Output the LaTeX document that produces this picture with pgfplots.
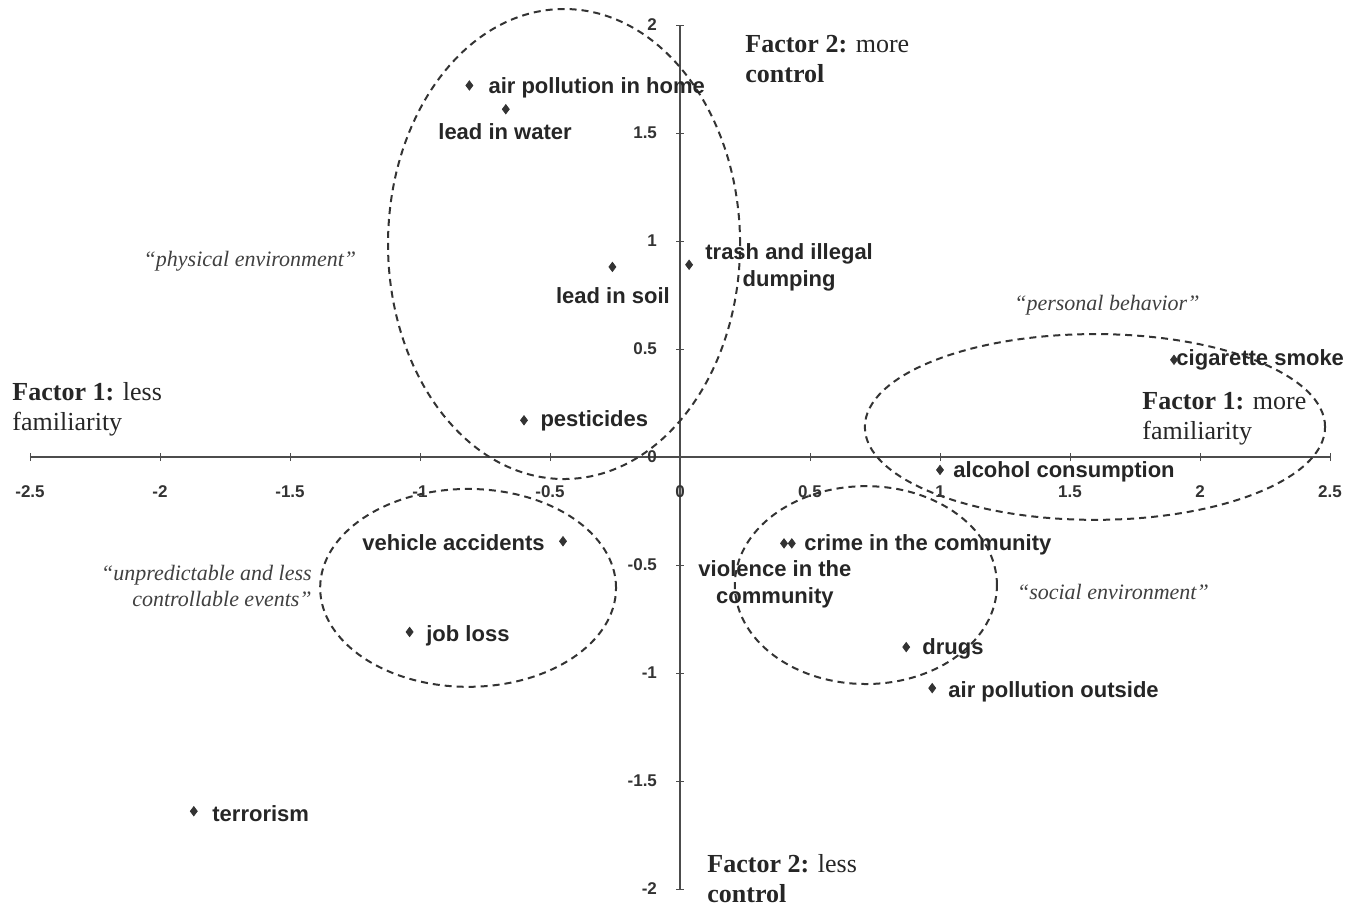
\documentclass[border=0pt]{standalone}
\usepackage{pgfplots}
\pgfplotsset{compat=1.18}
\usepackage{fontspec}
\setmainfont{Liberation Serif}
\newfontfamily\lsans{Liberation Sans}
\begin{document}
\begin{tikzpicture}
\begin{axis}[
  name=ax,
  scale only axis,
  width=650pt, height=432pt,
  xmin=-2.5, xmax=2.5, ymin=-2, ymax=2,
  axis lines=middle,
  axis line style={-, line width=1pt, black!70},
  xtick={-2.5,-2,...,2.5},
  ytick={-2,-1.5,...,2},
  hide obscured x ticks=false,
  hide obscured y ticks=false,
  tick style={black!70, thin},
  major tick length=4pt,
  /pgf/number format/assume math mode=true,
  ticklabel style={font=\lsans\bfseries\fontsize{8.5}{10}\selectfont, text=black!80},
  xticklabel style={yshift=-9pt},
  yticklabel style={xshift=-6pt},
  clip=false,
]
\addplot[only marks, mark=diamond*, mark size=2.3pt, black!80] coordinates {
  (-0.81, 1.72)   % air pollution in home
  (-0.67, 1.61)   % lead in water
  (-0.26, 0.88)   % lead in soil
  (0.035, 0.89)   % trash and illegal dumping
  (-0.60, 0.17)   % pesticides
  (1.90, 0.45)    % cigarette smoke
  (1.00, -0.06)   % alcohol consumption
  (0.43, -0.40)   % crime in the community
  (0.40, -0.40)   % violence in the community
  (0.87, -0.88)   % drugs
  (0.97, -1.07)   % air pollution outside
  (-0.45, -0.39)  % vehicle accidents
  (-1.04, -0.81)  % job loss
  (-1.87, -1.64)  % terrorism
};

% group ellipses
\begin{scope}[dash pattern=on 3.5pt off 2.5pt, line width=1pt, black!80]
  \draw (axis cs:-0.446,0.986) ellipse [x radius=0.677, y radius=1.088];
  \draw (axis cs:1.596,0.139) ellipse [x radius=0.885, y radius=0.43];
  \draw (axis cs:-0.815,-0.606) ellipse [x radius=0.569, y radius=0.458];
  \draw (axis cs:0.715,-0.593) ellipse [x radius=0.504, y radius=0.458];
\end{scope}

% point labels
\begin{scope}[every node/.style={inner sep=0pt, font=\lsans\bfseries\fontsize{11}{13.5}\selectfont, text=black!85}]
  \node[anchor=west] at (axis cs:-0.738,1.708) {air pollution in home};
  \node at (axis cs:-0.673,1.505) {lead in water};
  \node at (axis cs:-0.258,0.745) {lead in soil};
  \node[anchor=west, align=center] at (axis cs:0.096,0.880) {trash and illegal\\dumping};
  \node[anchor=west] at (axis cs:-0.538,0.167) {pesticides};
  \node[anchor=west] at (axis cs:1.908,0.449) {cigarette smoke};
  \node[anchor=west] at (axis cs:1.05,-0.069) {alcohol consumption};
  \node[anchor=west] at (axis cs:0.477,-0.407) {crime in the community};
  \node[align=center] at (axis cs:0.365,-0.588) {violence in the\\community};
  \node[anchor=west] at (axis cs:0.931,-0.889) {drugs};
  \node[anchor=west] at (axis cs:1.031,-1.088) {air pollution outside};
  \node[anchor=east] at (axis cs:-0.519,-0.398) {vehicle accidents};
  \node[anchor=west] at (axis cs:-0.977,-0.829) {job loss};
  \node[anchor=west] at (axis cs:-1.80,-1.653) {terrorism};
\end{scope}

% group names
\begin{scope}[every node/.style={inner sep=0pt, font=\itshape\fontsize{11}{13}\selectfont, text=black!75}]
  \node at (axis cs:-1.654,0.907) {``physical environment''};
  \node at (axis cs:1.642,0.704) {``personal behavior''};
  \node[anchor=east, align=right] at (axis cs:-1.415,-0.597) {``unpredictable and less\\controllable events''};
  \node at (axis cs:1.665,-0.625) {``social environment''};
\end{scope}

% factor labels
\begin{scope}[every node/.style={inner sep=0pt, align=left, font=\fontsize{13}{15}\selectfont, text=black!85}]
  \node[anchor=west] at (axis cs:-2.569,0.222) {\textbf{Factor 1:} less\\familiarity};
  \node[anchor=west] at (axis cs:1.777,0.176) {\textbf{Factor 1:} more\\familiarity};
  \node[anchor=west] at (axis cs:0.25,1.843) {\textbf{Factor 2:} more\\\textbf{control}};
  \node[anchor=west] at (axis cs:0.104,-1.954) {\textbf{Factor 2:} less\\\textbf{control}};
\end{scope}
\end{axis}
\pgfresetboundingbox
\path ([xshift=-15pt,yshift=-10pt]ax.south west) rectangle ([xshift=18.5pt,yshift=12.5pt]ax.north east);
\end{tikzpicture}
\end{document}
